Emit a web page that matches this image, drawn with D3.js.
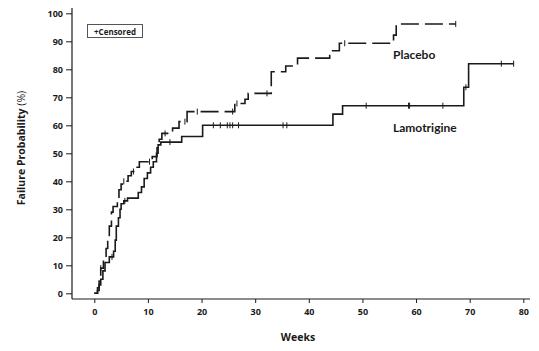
<!DOCTYPE html>
<html lang="en">
<head>
  <meta charset="UTF-8">
  <title>Failure probability</title>
  <script src="https://d3js.org/d3.v7.min.js"></script>
  <style>
    body { margin: 0; background: #fff; }
    svg { font-family: "Open Sans", sans-serif; }
  </style>
</head>
<body>
  <svg width="539" height="351"></svg>

  <script>
    // Placebo: week where each step starts, and failure % from that week
    const placeboWeeks = [0, 0.6, 0.9, 1.2, 1.7, 2.2, 2.5, 2.8, 3.2, 3.5, 4.3, 4.6, 5.0, 5.5, 6.3, 6.9, 7.8, 8.4, 10.8, 11.7, 12.1, 12.6, 14.6, 15.8, 17.3, 26.2, 28.1, 28.7, 33.0, 35.7, 37.9, 43.9, 45.7, 55.8, 56.3];
    const placeboPct   = [0, 2, 5, 9, 12, 16, 20, 24, 29, 31, 34, 37, 39, 40, 42, 43.5, 45, 47, 48.8, 52, 55, 57.1, 59, 61.3, 64.9, 67.8, 69.3, 71.4, 79.1, 81.2, 84, 86.6, 89.3, 92.2, 96.2];
    const placeboEnd = 67.4;
    const placeboCensored = [1.2, 5.5, 7.3, 10.3, 13.2, 16.9, 19.2, 25.8, 26.6, 32.2, 46.7, 67.4];

    // Lamotrigine
    const lamoWeeks = [0, 0.6, 0.9, 1.2, 1.6, 2.0, 2.8, 3.6, 3.9, 4.1, 4.5, 4.8, 5.0, 5.5, 6.2, 8.2, 8.8, 9.3, 9.9, 10.5, 11.0, 11.6, 11.9, 12.4, 16.3, 20.2, 44.5, 46.3, 68.9, 69.8];
    const lamoPct   = [0, 1, 3, 5, 8, 11, 13, 15, 19, 24, 27, 30, 32, 33, 34, 36, 38, 41, 43, 45, 47, 50, 53, 54, 56, 60, 64, 67, 73.6, 82];
    const lamoEnd = 78.2;
    const lamoCensored = [3.3, 5.7, 14.1, 22.2, 23.5, 24.8, 25.3, 25.8, 26.9, 35.2, 35.9, 50.7, 58.6, 58.8, 65.0, 69.3, 75.9, 78.2];

    const xTicks = [0, 10, 20, 30, 40, 50, 60, 70, 80];
    const yTicks = [0, 10, 20, 30, 40, 50, 60, 70, 80, 90, 100];

    const svg = d3.select("svg");
    const ink = "#1a1a1a";

    const x = d3.scaleLinear().domain([0, 80]).range([94.3, 523.3]);
    const y = d3.scaleLinear().domain([0, 100]).range([293.3, 13.3]);

    const axisLeftX = 72;
    const axisBottomY = 299;

    // y axis
    const yAxis = svg.append("g")
      .attr("transform", `translate(${axisLeftX},0)`)
      .call(d3.axisLeft(y).tickValues(yTicks).tickSize(6).tickPadding(3));
    yAxis.select(".domain").remove();
    svg.append("line")
      .attr("x1", axisLeftX).attr("x2", axisLeftX)
      .attr("y1", 8).attr("y2", axisBottomY)
      .attr("stroke", ink).attr("stroke-width", 1.2);

    // x axis
    const xAxis = svg.append("g")
      .attr("transform", `translate(0,${axisBottomY})`)
      .call(d3.axisBottom(x).tickValues(xTicks).tickSize(4).tickPadding(6));
    xAxis.select(".domain").remove();
    svg.append("line")
      .attr("x1", axisLeftX).attr("x2", 530)
      .attr("y1", axisBottomY).attr("y2", axisBottomY)
      .attr("stroke", ink).attr("stroke-width", 1.2);

    svg.selectAll(".tick line").attr("stroke", ink).attr("stroke-width", 1);
    svg.selectAll(".tick text")
      .attr("fill", ink)
      .style("font-family", "'Open Sans', sans-serif")
      .style("font-size", "9px")
      .style("font-weight", "bold");

    // axis titles
    svg.append("text")
      .attr("x", 298).attr("y", 341)
      .attr("text-anchor", "middle")
      .attr("fill", ink)
      .style("font-size", "10.5px").style("font-weight", "bold")
      .text("Weeks");

    const yTitle = svg.append("text")
      .attr("transform", "translate(25,148) rotate(-90)")
      .attr("text-anchor", "middle")
      .attr("fill", ink)
      .style("font-size", "10.5px");
    yTitle.append("tspan").style("font-weight", "bold").text("Failure Probability");
    yTitle.append("tspan").text(" (%)");

    // step curves
    function stepPoints(weeks, pct, end) {
      const pts = weeks.map((w, i) => [w, pct[i]]);
      pts.push([end, pct[pct.length - 1]]);
      return pts;
    }
    function valueAt(weeks, pct, w) {
      const i = d3.bisectRight(weeks, w) - 1;
      return pct[Math.max(0, i)];
    }

    const line = d3.line()
      .x(d => x(d[0]))
      .y(d => y(d[1]))
      .curve(d3.curveStepAfter);

    svg.append("path")
      .datum(stepPoints(placeboWeeks, placeboPct, placeboEnd))
      .attr("d", line)
      .attr("fill", "none")
      .attr("stroke", ink)
      .attr("stroke-width", 1.6)
      .attr("stroke-dasharray", "18,6");

    svg.append("path")
      .datum(stepPoints(lamoWeeks, lamoPct, lamoEnd))
      .attr("d", line)
      .attr("fill", "none")
      .attr("stroke", ink)
      .attr("stroke-width", 1.6);

    // censor marks
    function drawCensored(list, weeks, pct) {
      svg.append("g").selectAll("line")
        .data(list)
        .join("line")
        .attr("x1", d => x(d)).attr("x2", d => x(d))
        .attr("y1", d => y(valueAt(weeks, pct, d)) - 3)
        .attr("y2", d => y(valueAt(weeks, pct, d)) + 3)
        .attr("stroke", ink)
        .attr("stroke-width", 1);
    }
    drawCensored(placeboCensored, placeboWeeks, placeboPct);
    drawCensored(lamoCensored, lamoWeeks, lamoPct);

    // legend box
    svg.append("rect")
      .attr("x", 87.5).attr("y", 24.5)
      .attr("width", 55).attr("height", 13)
      .attr("fill", "none")
      .attr("stroke", "#555")
      .attr("stroke-width", 1);
    svg.append("text")
      .attr("x", 115).attr("y", 34.5)
      .attr("text-anchor", "middle")
      .attr("fill", ink)
      .style("font-size", "8px").style("font-weight", "bold")
      .text("+Censored");

    // curve labels
    svg.append("text")
      .attr("x", 393).attr("y", 58.5)
      .attr("fill", ink)
      .style("font-family", "Lato, sans-serif")
      .style("font-size", "12px").style("font-weight", "bold")
      .text("Placebo");
    svg.append("text")
      .attr("x", 393).attr("y", 131.5)
      .attr("fill", ink)
      .style("font-family", "Lato, sans-serif")
      .style("font-size", "12px").style("font-weight", "bold")
      .text("Lamotrigine");
  </script>
</body>
</html>
